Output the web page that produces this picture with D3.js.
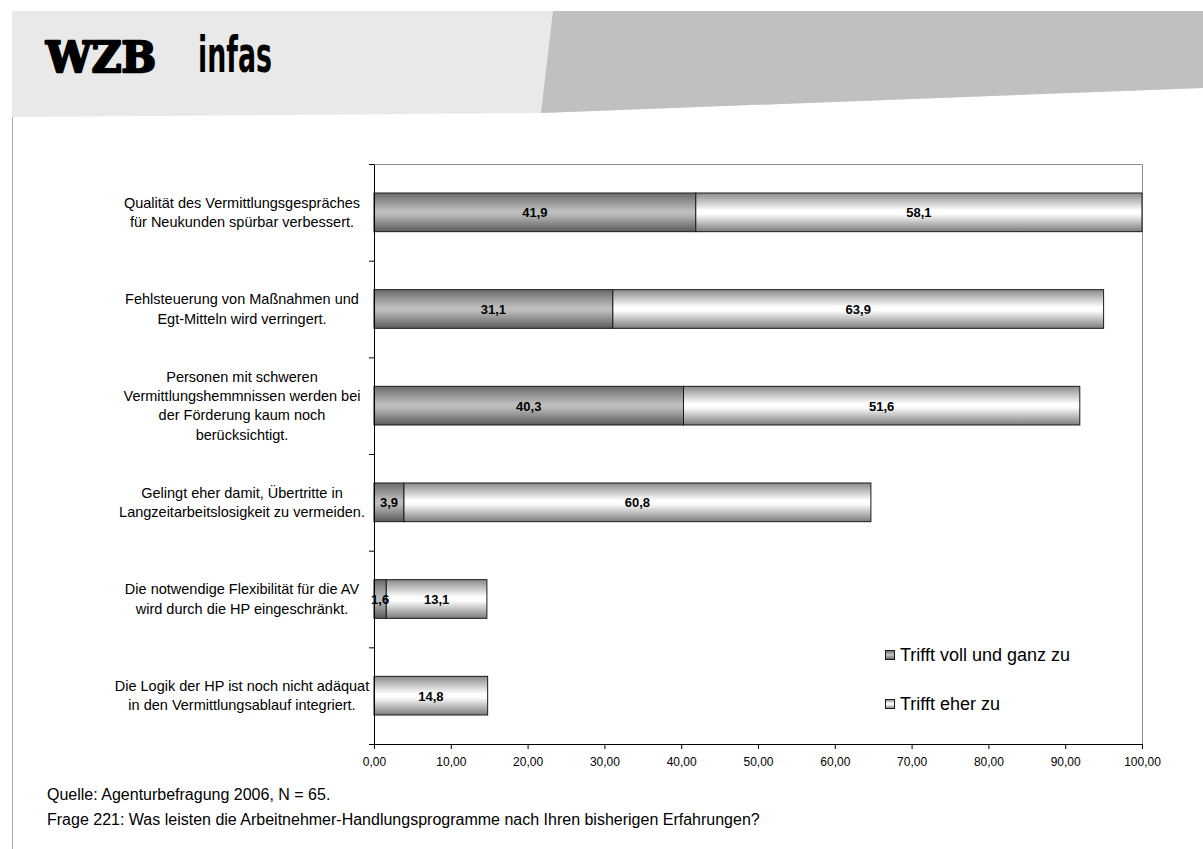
<!DOCTYPE html>
<html>
<head>
<meta charset="utf-8">
<script src="https://cdn.jsdelivr.net/npm/d3@7"></script>
<style>
  body { margin: 0; background: #fff; }
  svg { display: block; }
</style>
</head>
<body>
<svg id="chart" width="1203" height="849"></svg>
<script>
// Statements, one per bar (line breaks as printed)
const categoryLines = [
  ["Qualität des Vermittlungsgespräches", "für Neukunden spürbar verbessert."],
  ["Fehlsteuerung von Maßnahmen und", "Egt-Mitteln wird verringert."],
  ["Personen mit schweren", "Vermittlungshemmnissen werden bei", "der Förderung kaum noch", "berücksichtigt."],
  ["Gelingt eher damit, Übertritte in", "Langzeitarbeitslosigkeit zu vermeiden."],
  ["Die notwendige Flexibilität für die AV", "wird durch die HP eingeschränkt."],
  ["Die Logik der HP ist noch nicht adäquat", "in den Vermittlungsablauf integriert."]
];
const categories = categoryLines.map(l => l.join(" "));

// Shares in percent
const seriesNames = ["Trifft voll und ganz zu", "Trifft eher zu"];
const trifftVoll = [41.9, 31.1, 40.3, 3.9, 1.6, 0];
const trifftEher = [58.1, 63.9, 51.6, 60.8, 13.1, 14.8];

const xTicks = [0, 10, 20, 30, 40, 50, 60, 70, 80, 90, 100];

const sourceText = "Quelle: Agenturbefragung 2006, N = 65.";
const questionText = "Frage 221: Was leisten die Arbeitnehmer-Handlungsprogramme nach Ihren bisherigen Erfahrungen?";

const rows = categories.map((c, i) => ({ cat: c, voll: trifftVoll[i], eher: trifftEher[i] }));
const keys = ["voll", "eher"];

const de = d3.formatLocale({ decimal: ",", thousands: ".", grouping: [3], currency: ["", " €"] });
const fmtTick = de.format(".2f");
const fmtVal = de.format(".1f");

const svg = d3.select("#chart");
const FONT = "'Liberation Sans', Arial, sans-serif";

// ---- header band with logos ----
svg.append("polygon")
  .attr("points", "12,11 1203,11 1203,88 541,113 12,117")
  .attr("fill", "#e9e9e9");
svg.append("polygon")
  .attr("points", "553,11 1203,11 1203,88 541,113")
  .attr("fill", "#c0c0c0");
svg.append("line")
  .attr("x1", 12.5).attr("x2", 12.5).attr("y1", 117).attr("y2", 849)
  .attr("stroke", "#a8a8a8").attr("stroke-width", 1);

svg.append("text")
  .attr("x", 46).attr("y", 72)
  .attr("textLength", 110).attr("lengthAdjust", "spacingAndGlyphs")
  .style("font-family", "'DejaVu Serif', serif").style("font-weight", "bold")
  .style("font-size", "43px").attr("fill", "#000")
  .attr("stroke", "#000").attr("stroke-width", 2.4).attr("stroke-linejoin", "round")
  .text("WZB");
svg.append("text")
  .attr("x", 198).attr("y", 72)
  .attr("textLength", 74).attr("lengthAdjust", "spacingAndGlyphs")
  .style("font-family", "'Liberation Sans Narrow', 'DejaVu Sans Condensed', sans-serif").style("font-weight", "bold")
  .style("font-size", "50px").attr("fill", "#000")
  .text("infas");

// ---- gradients ----
const defs = svg.append("defs");
function grad(id, stops) {
  const g = defs.append("linearGradient").attr("id", id)
    .attr("x1", 0).attr("x2", 0).attr("y1", 0).attr("y2", 1);
  stops.forEach(([o, c]) => g.append("stop").attr("offset", o).attr("stop-color", c));
}
grad("gVoll", [[0, "#6a6a6a"], [0.45, "#bcbcbc"], [0.55, "#bcbcbc"], [1, "#5a5a5a"]]);
grad("gEher", [[0, "#8a8a8a"], [0.45, "#ffffff"], [0.55, "#fcfcfc"], [1, "#7c7c7c"]]);
const fills = { voll: "url(#gVoll)", eher: "url(#gEher)" };

// ---- scales ----
const plot = { left: 374, right: 1142, top: 164, bottom: 744 };
const x = d3.scaleLinear().domain([0, 100]).range([plot.left, plot.right]);
const y = d3.scaleBand().domain(categories).range([plot.top, plot.bottom])
  .paddingInner(0.6).paddingOuter(0.3);
const yBound = d3.scaleLinear().domain([0, categories.length]).range([plot.top, plot.bottom]);

// plot frame (top and right in grey)
svg.append("path")
  .attr("d", `M${plot.left},${plot.top + 0.5}H${plot.right + 0.5}V${plot.bottom}`)
  .attr("fill", "none").attr("stroke", "#8c8c8c").attr("stroke-width", 1);

// ---- bars ----
const stacked = d3.stack().keys(keys)(rows);
const layer = svg.append("g").selectAll("g").data(stacked).join("g")
  .attr("fill", d => fills[d.key]);
layer.selectAll("rect").data(d => d.filter(s => s[1] - s[0] > 0)).join("rect")
  .attr("x", d => x(d[0]))
  .attr("y", d => y(d.data.cat))
  .attr("width", d => x(d[1]) - x(d[0]))
  .attr("height", y.bandwidth())
  .attr("stroke", "#1a1a1a").attr("stroke-width", 1);

// value labels
const labels = svg.append("g")
  .style("font-family", FONT).style("font-weight", "bold").style("font-size", "13px")
  .attr("text-anchor", "middle").attr("fill", "#000");
stacked.forEach(s => {
  s.forEach(d => {
    const v = d[1] - d[0];
    if (v <= 0) return;
    labels.append("text")
      .attr("x", (x(d[0]) + x(d[1])) / 2)
      .attr("y", y(d.data.cat) + y.bandwidth() / 2 + 5)
      .text(fmtVal(v));
  });
});

// ---- axes ----
const xAxis = svg.append("g")
  .attr("transform", `translate(0,${plot.bottom})`)
  .call(d3.axisBottom(x).tickValues(xTicks).tickSize(5).tickSizeOuter(0).tickFormat(fmtTick));
xAxis.select(".domain").attr("stroke", "#000");
xAxis.selectAll(".tick line").attr("stroke", "#000");
xAxis.selectAll(".tick text")
  .style("font-family", FONT).style("font-size", "12px").attr("fill", "#000").attr("dy", "1.2em");

const yAxis = svg.append("g")
  .attr("transform", `translate(${plot.left},0)`)
  .call(d3.axisLeft(yBound).tickValues(d3.range(categories.length + 1)).tickSize(5).tickSizeOuter(0).tickFormat(""));
yAxis.select(".domain").attr("stroke", "#000");
yAxis.selectAll(".tick line").attr("stroke", "#000");

// category labels
const catG = svg.append("g")
  .style("font-family", FONT).style("font-size", "14.5px")
  .attr("text-anchor", "middle").attr("fill", "#000");
categoryLines.forEach((lines, i) => {
  const cy = y(categories[i]) + y.bandwidth() / 2;
  const lh = 19.3;
  const t = catG.append("text");
  lines.forEach((ln, j) => {
    t.append("tspan")
      .attr("x", 242)
      .attr("y", cy + (j - (lines.length - 1) / 2) * lh + 5)
      .text(ln);
  });
});

// ---- legend ----
const legend = svg.append("g").style("font-family", FONT).style("font-size", "18px");
seriesNames.forEach((name, i) => {
  const g = legend.append("g").attr("transform", `translate(885,${650 + i * 49})`);
  g.append("rect").attr("x", 0.5).attr("y", 0.5).attr("width", 9).attr("height", 9)
    .attr("fill", fills[keys[i]]).attr("stroke", "#1a1a1a");
  g.append("text").attr("x", 15).attr("y", 11).attr("fill", "#000").text(name);
});

// ---- footer ----
const foot = svg.append("g").style("font-family", FONT).style("font-size", "16px").attr("fill", "#000");
foot.append("text").attr("x", 47).attr("y", 800).text(sourceText);
foot.append("text").attr("x", 47).attr("y", 825).text(questionText);
</script>
</body>
</html>
